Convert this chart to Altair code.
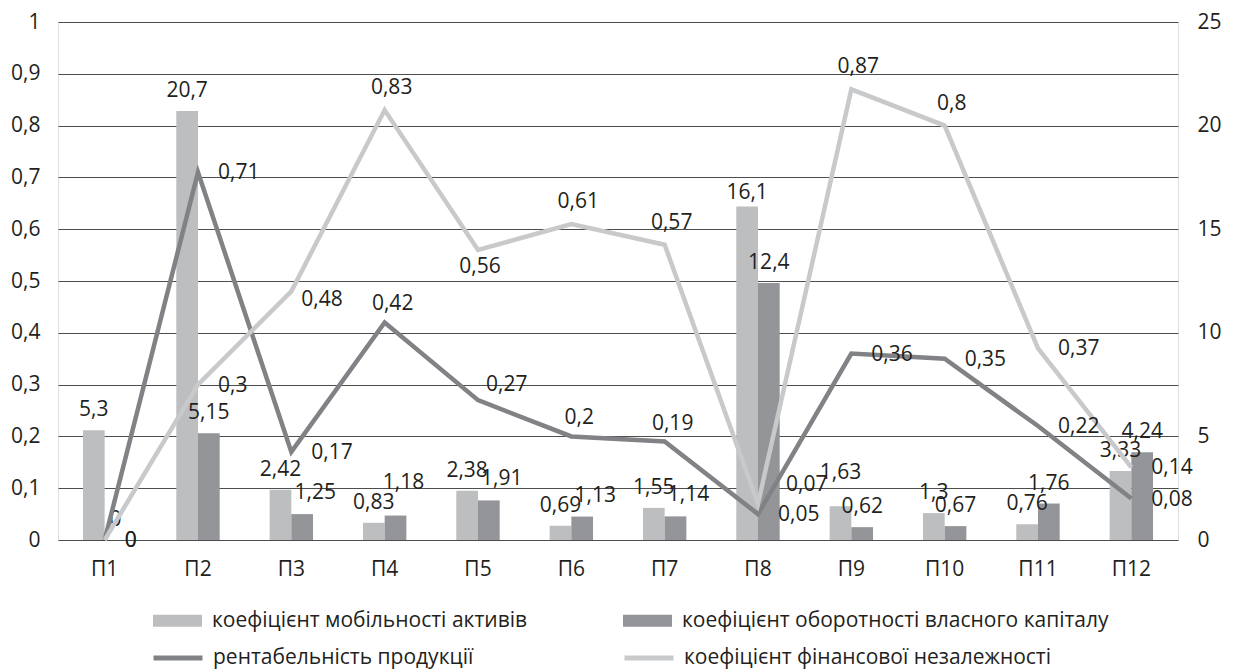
import altair as alt
import pandas as pd

# ---- data ----
categories = ["П1", "П2", "П3", "П4", "П5", "П6", "П7", "П8", "П9", "П10", "П11", "П12"]
mobility = [5.3, 20.7, 2.42, 0.83, 2.38, 0.69, 1.55, 16.1, 1.63, 1.3, 0.76, 3.33]
turnover = [0, 5.15, 1.25, 1.18, 1.91, 1.13, 1.14, 12.4, 0.62, 0.67, 1.76, 4.24]
profitability = [0, 0.71, 0.17, 0.42, 0.27, 0.2, 0.19, 0.05, 0.36, 0.35, 0.22, 0.08]
independence = [0, 0.3, 0.48, 0.83, 0.56, 0.61, 0.57, 0.07, 0.87, 0.8, 0.37, 0.14]

S_MOB = "коефіцієнт мобільності активів"
S_TURN = "коефіцієнт оборотності власного капіталу"
S_PROF = "рентабельність продукції"
S_IND = "коефіцієнт фінансової незалежності"
bar_series = [S_MOB, S_TURN]
bar_colors = ["#BCBEC0", "#939598"]
line_series = [S_PROF, S_IND]
line_colors = ["#808285", "#C8C9CB"]

left_ticks = [0, 0.1, 0.2, 0.3, 0.4, 0.5, 0.6, 0.7, 0.8, 0.9, 1]
right_ticks = [0, 5, 10, 15, 20, 25]


def fmt(v):
    return f"{v:g}".replace(".", ",")


bars_df = pd.DataFrame({
    "cat": categories * 2,
    "series": [S_MOB] * len(categories) + [S_TURN] * len(categories),
    "value": mobility + turnover,
})
bars_df["label"] = bars_df["value"].map(fmt)

lines_df = pd.DataFrame({
    "cat": categories * 2,
    "series": [S_PROF] * len(categories) + [S_IND] * len(categories),
    "value": profitability + independence,
})
lines_df["label"] = lines_df["value"].map(fmt)

FONT = "Open Sans"
TXT = "#231F20"
FS = 21

legend_common = dict(
    orient="none", direction="horizontal", columns=2,
    title=None, labelFontSize=FS, labelFont=FONT, labelColor=TXT,
    symbolSize=2400, padding=0, labelLimit=600,
)

bar_legend = alt.Legend(
    legendX=95, legendY=574, columnPadding=95, labelOffset=10,
    symbolType="M-1,-0.245L1,-0.245L1,0.245L-1,0.245Z", symbolStrokeWidth=0,
    **legend_common,
)
line_legend = alt.Legend(
    legendX=93, legendY=609, columnPadding=140, labelOffset=8,
    symbolType="stroke", symbolStrokeWidth=5,
    **legend_common,
)

x_enc = alt.X(
    "cat:N", sort=categories, title=None,
    scale=alt.Scale(paddingInner=0.535, paddingOuter=0.2675),
    axis=alt.Axis(labelAngle=0, domain=False, ticks=False, labelPadding=18,
                  labelFontSize=FS, labelFont=FONT, labelColor=TXT),
)

y_right = alt.Y(
    "value:Q", title=None,
    scale=alt.Scale(domain=[0, 25], nice=False),
    axis=alt.Axis(orient="right", values=right_ticks, grid=False, domain=False,
                  ticks=False, labelPadding=19, labelFontSize=FS, labelFont=FONT,
                  labelColor=TXT),
)

y_left = alt.Y(
    "value:Q", title=None,
    scale=alt.Scale(domain=[0, 1], nice=False),
    axis=alt.Axis(orient="left", values=left_ticks, grid=True, gridColor="#4D4D4D",
                  gridWidth=1, domain=False, ticks=False, labelPadding=18,
                  labelFontSize=FS, labelFont=FONT, labelColor=TXT,
                  labelExpr="replace(format(datum.value, '.1~f'), '.', ',')"),
)

bar_base = alt.Chart(bars_df).encode(
    x=x_enc,
    xOffset=alt.XOffset("series:N", sort=bar_series),
    y=y_right,
)

bars = bar_base.mark_bar().encode(
    color=alt.Color("series:N", scale=alt.Scale(domain=bar_series, range=bar_colors),
                    legend=bar_legend),
)

text_style = dict(font=FONT, fontSize=FS, color=TXT)


def bar_label_layer(series, cats, **kw):
    return bar_base.transform_filter(
        alt.FieldEqualPredicate(field="series", equal=series)
    ).transform_filter(
        alt.FieldOneOfPredicate(field="cat", oneOf=cats)
    ).mark_text(baseline="alphabetic", **text_style, **kw).encode(text="label:N")


mob_std = bar_label_layer(S_MOB, ["П1", "П2", "П3", "П4", "П5", "П6", "П7",
                                  "П10", "П11", "П12"], dy=-14)
mob_p8 = bar_label_layer(S_MOB, ["П8"], dy=-7)
mob_p9 = bar_label_layer(S_MOB, ["П9"], dy=-27)
turn_std = bar_label_layer(S_TURN, ["П1", "П2", "П8", "П9", "П10", "П11", "П12"], dy=-14)
turn_shift = bar_label_layer(S_TURN, ["П3", "П5", "П6", "П7"], dx=13, dy=-15)
turn_p4 = bar_label_layer(S_TURN, ["П4"], dx=8, dy=-27)

bars_layer = alt.layer(bars, mob_std, mob_p8, mob_p9, turn_std, turn_shift, turn_p4)

line_base = alt.Chart(lines_df).encode(x=x_enc, y=y_left)

lines = line_base.mark_line(strokeWidth=4.5).encode(
    stroke=alt.Stroke("series:N", scale=alt.Scale(domain=line_series, range=line_colors),
                      legend=line_legend),
    detail="series:N",
)


def label_layer(series, cats, **kw):
    return line_base.transform_filter(
        alt.FieldEqualPredicate(field="series", equal=series)
    ).transform_filter(
        alt.FieldOneOfPredicate(field="cat", oneOf=cats)
    ).mark_text(**text_style, **kw).encode(text="label:N")


right_kw = dict(align="left", baseline="middle", dx=20, dy=1)
above_kw = dict(align="center", baseline="alphabetic", dy=-12, dx=8)

prof_right = label_layer(S_PROF, ["П1", "П2", "П3", "П8", "П9", "П10", "П11", "П12"], **right_kw)
prof_above = label_layer(S_PROF, ["П4", "П6", "П7"], **above_kw)
prof_p5 = label_layer(S_PROF, ["П5"], align="left", baseline="middle", dx=8, dy=-15)

ind_right = label_layer(S_IND, ["П1", "П2", "П11", "П12"], **right_kw)
ind_p3 = label_layer(S_IND, ["П3"], align="left", baseline="middle", dx=10, dy=9)
ind_p8 = label_layer(S_IND, ["П8"], align="left", baseline="middle", dx=28, dy=-19)
ind_above = label_layer(S_IND, ["П4", "П6", "П7", "П9", "П10"], align="center",
                        baseline="alphabetic", dy=-16, dx=7)
ind_below = label_layer(S_IND, ["П5"], align="center", baseline="middle", dy=17, dx=2)

lines_layer = alt.layer(lines, prof_right, prof_above, prof_p5,
                        ind_right, ind_p3, ind_p8, ind_above, ind_below)

chart = alt.layer(bars_layer, lines_layer).resolve_scale(y="independent").properties(
    width=1120, height=518,
    autosize=alt.AutoSizeParams(type="none"),
    padding={"left": 58, "top": 22, "right": 61, "bottom": 130},
).configure_view(stroke=None).configure(font=FONT)

chart.save("out.html", embed_options={"renderer": "svg", "actions": False})
